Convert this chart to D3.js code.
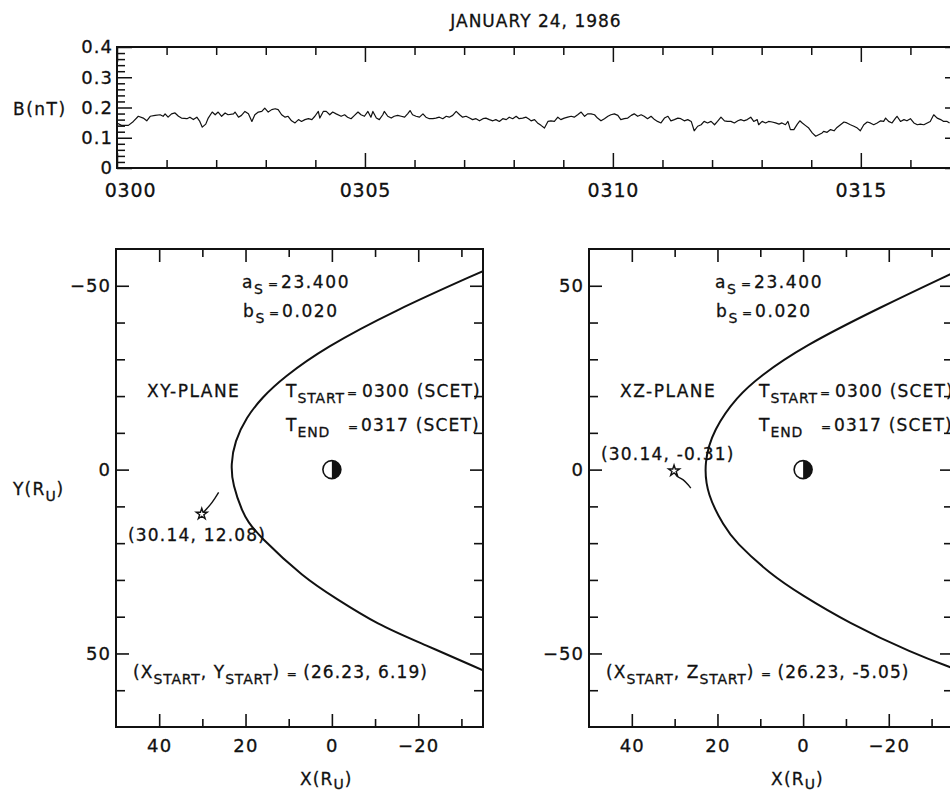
<!DOCTYPE html>
<html>
<head>
<meta charset="UTF-8">
<title>Bow shock model, January 24 1986</title>
<script src="https://d3js.org/d3.v7.min.js"></script>
<style>
  body { margin: 0; background: #fff; }
  svg text { font-family: "DejaVu Sans", sans-serif; fill: #111; white-space: pre;
             stroke: #111; stroke-width: 0.3px; }
</style>
</head>
<body>
<svg id="chart" width="950" height="793"></svg>
<script>
// ---- field magnitude, minutes after 0300 SCET
var bTime = [
  0.00,0.09,0.23,0.33,0.43,0.53,0.60,0.67,0.77,0.87,0.93,0.97,1.03,1.10,1.17,1.24,1.30,1.41,1.47,1.54,
  1.61,1.67,1.72,1.79,1.84,1.92,1.98,2.04,2.11,2.18,2.24,2.35,2.38,2.45,2.51,2.58,2.65,2.72,2.78,2.85,
  2.92,2.98,3.05,3.12,3.19,3.25,3.32,3.39,3.45,3.52,3.59,3.66,3.72,3.79,3.86,3.93,3.99,4.06,4.09,4.16,
  4.22,4.29,4.35,4.42,4.52,4.59,4.65,4.72,4.79,4.86,4.92,4.99,5.06,5.12,5.16,5.23,5.29,5.36,5.39,5.46,
  5.53,5.59,5.66,5.73,5.80,5.86,5.91,5.96,6.03,6.10,6.17,6.23,6.30,6.37,6.43,6.50,6.57,6.64,6.70,6.77,
  6.84,6.91,6.97,7.04,7.11,7.17,7.24,7.31,7.38,7.44,7.51,7.58,7.64,7.71,7.78,7.85,7.91,7.98,8.05,8.11,
  8.18,8.25,8.32,8.35,
  8.42,8.48,8.55,8.62,8.69,8.75,8.82,8.89,8.95,9.02,9.09,9.16,9.22,9.29,9.36,9.43,9.49,9.56,9.63,9.69,
  9.76,9.83,9.90,9.96,10.03,10.10,10.16,10.23,10.30,10.37,10.43,10.50,10.57,10.63,10.70,10.77,10.84,10.90,10.97,11.04,
  11.11,11.17,11.24,11.31,11.37,11.44,11.51,11.58,11.64,11.71,11.78,11.84,11.91,11.98,12.05,12.11,12.18,12.25,12.31,12.38,
  12.45,12.52,12.58,
  12.64,12.71,12.78,12.84,12.91,12.94,13.01,13.08,13.14,13.21,13.28,13.35,13.41,13.48,13.53,13.58,13.65,13.72,13.77,13.82,
  13.88,13.95,14.02,14.09,14.15,14.22,14.25,14.32,14.39,14.46,14.52,14.59,14.66,14.72,14.79,14.86,14.93,14.99,15.06,15.13,
  15.19,15.26,15.33,15.40,15.46,15.50,15.56,15.63,15.70,15.73,15.80,15.87,15.93,16.00,16.07,16.14,16.20,16.27,16.34,16.40,
  16.47,16.54,16.61,16.67,16.74,16.79
];
var bValue = [
  .149,.141,.141,.154,.171,.165,.156,.171,.174,.176,.171,.179,.168,.179,.182,.171,.165,.163,.168,.160,
  .168,.154,.135,.145,.165,.185,.176,.185,.171,.182,.176,.179,.185,.168,.174,.187,.179,.154,.176,.185,
  .187,.198,.185,.193,.196,.193,.176,.168,.171,.156,.149,.160,.154,.160,.163,.160,.171,.187,.165,.187,
  .187,.176,.185,.179,.171,.176,.168,.163,.174,.185,.176,.171,.187,.168,.187,.165,.160,.176,.187,.171,
  .165,.171,.174,.171,.168,.179,.190,.176,.171,.168,.179,.168,.163,.163,.165,.168,.163,.171,.168,.174,
  .187,.176,.168,.171,.165,.160,.163,.156,.163,.165,.160,.156,.160,.154,.163,.160,.168,.163,.171,.163,
  .165,.168,.160,.156,
  .160,.149,.141,.132,.154,.156,.154,.168,.160,.165,.168,.171,.168,.176,.185,.171,.179,.179,.176,.165,
  .156,.163,.171,.176,.179,.174,.160,.163,.165,.174,.179,.171,.176,.171,.163,.171,.160,.154,.149,.165,
  .171,.156,.160,.165,.163,.156,.160,.154,.123,.138,.143,.154,.149,.154,.143,.154,.168,.156,.154,.154,
  .149,.156,.160,
  .156,.160,.168,.154,.160,.143,.154,.149,.154,.152,.149,.145,.149,.143,.154,.127,.127,.145,.156,.149,
  .141,.132,.116,.105,.110,.116,.121,.118,.127,.123,.134,.143,.152,.149,.143,.138,.132,.123,.143,.152,
  .149,.143,.149,.156,.154,.165,.154,.149,.165,.171,.154,.160,.156,.163,.149,.143,.145,.143,.149,.154,
  .176,.165,.160,.154,.154,.149
];

var timeTicks = [0, 5, 10, 15];
var timeLabels = ["0300", "0305", "0310", "0315"];
var bTicks = [0, 0.1, 0.2, 0.3, 0.4];
var bLabels = ["0", "0.1", "0.2", "0.3", "0.4"];

// ---- shock surface as drawn in each plane (R_U)
var shockXY_x = [-35, -14.4, 1.6, 11.2, 16.2, 19.8, 22.5, 23.4, 23.0, 20.6, 19.4, 17.2, 6.4, -0.8, -10.5, -21.3, -35];
var shockXY_y = [-54.0, -43.2, -33.2, -25.1, -19.6, -14.2, -7.7, -1.4, 4.1, 11.9, 14.1, 17.7, 29.5, 34.9, 42.1, 47.5, 54.6];
var shockXZ_x = [-35, -18.1, 0.2, 10.2, 15.4, 20.9, 23.2, 22.4, 18.4, 16.0, 7.6, 0.6, -10.3, -25.8, -35];
var shockXZ_z = [53.5, 44.2, 33.4, 25.3, 19.9, 11.0, 2.0, -7.0, -15.5, -19.5, -28.5, -33.9, -41.5, -50.1, -54.0];

// spacecraft track, start -> end (star)
var trackXY_x = [26.23, 27.1, 28.2, 29.6, 30.14];
var trackXY_y = [6.19, 7.8, 9.6, 11.4, 12.08];
var trackXZ_x = [26.23, 26.8, 28.0, 29.5, 30.14];
var trackXZ_z = [-5.05, -4.2, -2.8, -1.74, -0.31];

var xTicks = [40, 20, 0, -20];
var xLabels = ["40", "20", "0", "\u221220"];
var xMinor = [30, 10, -10, -30];
var yTicksXY = [-50, 0, 50];
var yLabelsXY = ["\u221250", "0", "50"];
var yTicksXZ = [50, 0, -50];
var yLabelsXZ = ["50", "0", "\u221250"];
var yMinor = [-40, -30, -20, -10, 10, 20, 30, 40, 60];

var svg = d3.select("#chart");
var ink = "#111";

function styleAxis(g, w) {
  g.select(".domain").remove();
  g.selectAll("line").attr("stroke", ink).attr("stroke-width", w);
  return g;
}

function styleLabels(sel, size, ls) {
  sel.style("font-size", size + "px").style("letter-spacing", ls + "px")
    .attr("fill", ink).style("font-family", "DejaVu Sans");
}

// parts: {t, sub, x, eq}; eq = the small lettering "=" sign
function richText(g, x, y, parts, size, ls, subDy) {
  var dy = subDy == null ? 6 : subDy;
  var t = g.append("text").attr("x", x).attr("y", y)
      .style("font-size", size + "px").style("letter-spacing", ls + "px");
  parts.forEach(function(p) {
    var s = t.append("tspan").text(p.t).attr("y", p.sub ? y + dy : y);
    if (p.sub) s.style("font-size", "14px").style("letter-spacing", "0.8px");
    if (p.eq) s.style("font-size", "12px").style("letter-spacing", "0px");
    if (p.x != null) s.attr("x", x + p.x);
  });
  return t;
}

// ---------------- top panel
var xT = d3.scaleLinear().domain([0, 17]).range([117, 960]);
var yT = d3.scaleLinear().domain([0, 0.4]).range([168, 47]);
var topG = svg.append("g");

var minMinor = d3.range(0, 18).filter(function(d) { return d % 5 !== 0; });
var bMinor = d3.range(0, 21).map(function(i) { return i * 0.02; })
    .filter(function(d, i) { return i % 5 !== 0; });

topG.append("g").attr("transform", "translate(0,168)")
  .call(d3.axisBottom(xT).tickValues(minMinor).tickSize(-8).tickSizeOuter(0).tickFormat(""))
  .call(styleAxis, 1.5);
topG.append("g").attr("transform", "translate(0,168)")
  .call(d3.axisBottom(xT).tickValues(timeTicks).tickSize(-15).tickSizeOuter(0).tickPadding(16)
    .tickFormat(function(d, i) { return timeLabels[i]; }))
  .call(styleAxis, 1.5)
  .selectAll("text").call(styleLabels, 19, 0.8)
  .attr("dx", function(d, i) { return i === 0 ? 13 : 0; });
topG.append("g").attr("transform", "translate(0,47)")
  .call(d3.axisTop(xT).tickValues(minMinor).tickSize(-8).tickSizeOuter(0).tickFormat(""))
  .call(styleAxis, 1.5);
topG.append("g").attr("transform", "translate(0,47)")
  .call(d3.axisTop(xT).tickValues(timeTicks).tickSize(-15).tickSizeOuter(0).tickFormat(""))
  .call(styleAxis, 1.5);
topG.append("g").attr("transform", "translate(117,0)")
  .call(d3.axisLeft(yT).tickValues(bMinor).tickSize(-8).tickSizeOuter(0).tickFormat(""))
  .call(styleAxis, 1.5);
topG.append("g").attr("transform", "translate(117,0)")
  .call(d3.axisLeft(yT).tickValues(bTicks).tickSize(-15).tickSizeOuter(0).tickPadding(4)
    .tickFormat(function(d, i) { return bLabels[i]; }))
  .call(styleAxis, 1.5)
  .selectAll("text").call(styleLabels, 18, 1);
topG.append("g").attr("transform", "translate(960,0)")
  .call(d3.axisRight(yT).tickValues(bTicks).tickSize(-15).tickSizeOuter(0).tickFormat(""))
  .call(styleAxis, 1.5);

topG.append("rect").attr("x", 117).attr("y", 47).attr("width", 843).attr("height", 121)
  .attr("fill", "none").attr("stroke", ink).attr("stroke-width", 2);

topG.append("path")
  .datum(d3.range(bTime.length))
  .attr("fill", "none").attr("stroke", ink).attr("stroke-width", 1.2)
  .attr("stroke-linejoin", "round")
  .attr("d", d3.line().x(function(i) { return xT(bTime[i]); }).y(function(i) { return yT(bValue[i]); }));

richText(svg, 536, 27, [{t: "JANUARY 24, 1986"}], 17, 1).attr("text-anchor", "middle");
richText(svg, 13, 115, [{t: "B(nT)"}], 17, 1.5);

// ---------------- orbit-plane panels
function drawPanel(p) {
  var g = svg.append("g");
  var x = d3.scaleLinear().domain([50, -35]).range([p.left, p.right]);
  var y = d3.scaleLinear().domain(p.yDomain).range([249, 727]);
  var yMinorP = yMinor.map(function(d) { return d * p.sign; });

  function ticks(axis, pos, vals, len) {
    g.append("g").attr("transform", pos)
      .call(axis.tickValues(vals).tickSize(-len).tickSizeOuter(0).tickFormat(""))
      .call(styleAxis, 1.6);
  }
  ticks(d3.axisBottom(x), "translate(0,727)", xMinor, 8);
  ticks(d3.axisTop(x), "translate(0,249)", xMinor, 8);
  ticks(d3.axisTop(x), "translate(0,249)", xTicks, 13);
  ticks(d3.axisLeft(y), "translate(" + p.left + ",0)", yMinorP, 9);
  ticks(d3.axisRight(y), "translate(" + p.right + ",0)", yMinorP, 9);
  ticks(d3.axisRight(y), "translate(" + p.right + ",0)", p.yTicks, 13);

  g.append("g").attr("transform", "translate(0,727)")
    .call(d3.axisBottom(x).tickValues(xTicks).tickSize(-13).tickSizeOuter(0).tickPadding(12)
      .tickFormat(function(d, i) { return xLabels[i]; }))
    .call(styleAxis, 1.6)
    .selectAll("text").call(styleLabels, 18, 1.2);
  g.append("g").attr("transform", "translate(" + p.left + ",0)")
    .call(d3.axisLeft(y).tickValues(p.yTicks).tickSize(-13).tickSizeOuter(0).tickPadding(5)
      .tickFormat(function(d, i) { return p.yLabels[i]; }))
    .call(styleAxis, 1.6)
    .selectAll("text").call(styleLabels, 18, 1);

  var clipId = "clip" + p.id;
  g.append("clipPath").attr("id", clipId).append("rect")
    .attr("x", p.left).attr("y", 249).attr("width", p.right - p.left).attr("height", 478);

  g.append("rect").attr("x", p.left).attr("y", 249).attr("width", p.right - p.left).attr("height", 478)
    .attr("fill", "none").attr("stroke", ink).attr("stroke-width", 2);

  var shockLine = d3.line().curve(d3.curveBasis);
  g.append("path")
    .attr("clip-path", "url(#" + clipId + ")")
    .attr("fill", "none").attr("stroke", ink).attr("stroke-width", 2)
    .attr("d", shockLine(p.shockX.map(function(v, i) { return [x(v), y(p.shockY[i])]; })));

  var trackLine = d3.line().curve(d3.curveCatmullRom.alpha(0.5));
  g.append("path")
    .attr("fill", "none").attr("stroke", ink).attr("stroke-width", 1.4)
    .attr("d", trackLine(p.trackX.map(function(v, i) { return [x(v), y(p.trackY[i])]; })));

  var n = p.trackX.length - 1;
  g.append("path")
    .attr("transform", "translate(" + x(p.trackX[n]) + "," + y(p.trackY[n]) + ")")
    .attr("d", d3.symbol().type(d3.symbolStar).size(38)())
    .attr("fill", "#fff").attr("stroke", ink).attr("stroke-width", 1.4);

  // planet at the origin
  var pl = g.append("g").attr("transform", "translate(" + x(0) + "," + y(0) + ")");
  pl.append("circle").attr("r", 9).attr("fill", "#fff").attr("stroke", ink).attr("stroke-width", 1.6);
  pl.append("path").attr("d", "M0,-9A9,9 0 0,1 0,9Z").attr("fill", ink);

  // annotations
  var L = p.left;
  richText(g, L + 126, 288, [{t: "a"}, {t: "S", sub: true}, {t: "=", x: 26, eq: true}, {t: "23.400", x: 39}], 17, 1.6);
  richText(g, L + 127, 317, [{t: "b"}, {t: "S", sub: true}, {t: "=", x: 26, eq: true}, {t: "0.020", x: 39}], 17, 1.6);
  richText(g, L + 31, 397, [{t: p.plane}], 17, 1.5);
  richText(g, L + 170, 397, [{t: "T"}, {t: "START", sub: true}, {t: "=", x: 61, eq: true}, {t: "0300 (SCET)", x: 76}], 17, 1.2);
  richText(g, L + 170, 431, [{t: "T"}, {t: "END", sub: true}, {t: "=", x: 62, eq: true}, {t: "0317 (SCET)", x: 75}], 17, 1.2);
  richText(g, L + 12, p.endLabelY, [{t: p.endLabel}], 17, 1.2);
  richText(g, L + 17, 678, [{t: "(X"}, {t: "START", sub: true}, {t: ", " + p.axisName}, {t: "START", sub: true},
    {t: ") "}, {t: "=", eq: true}, {t: " " + p.startLabel}], 17, 1.1);
  richText(g, x(0) - 32, 785, [{t: "X(R"}, {t: "U", sub: true}, {t: ")"}], 17, 1.2, 4);
}

drawPanel({
  id: "xy", left: 116, right: 483, yDomain: [-60, 70], sign: 1,
  yTicks: yTicksXY, yLabels: yLabelsXY,
  shockX: shockXY_x, shockY: shockXY_y, trackX: trackXY_x, trackY: trackXY_y,
  plane: "XY-PLANE", axisName: "Y", startLabel: "(26.23, 6.19)",
  endLabel: "(30.14, 12.08)", endLabelY: 541
});
drawPanel({
  id: "xz", left: 589, right: 953, yDomain: [60, -70], sign: -1,
  yTicks: yTicksXZ, yLabels: yLabelsXZ,
  shockX: shockXZ_x, shockY: shockXZ_z, trackX: trackXZ_x, trackY: trackXZ_z,
  plane: "XZ-PLANE", axisName: "Z", startLabel: "(26.23, -5.05)",
  endLabel: "(30.14, -0.31)", endLabelY: 460
});

richText(svg, 13, 495, [{t: "Y(R"}, {t: "U", sub: true}, {t: ")"}], 17, 1.2);
</script>
</body>
</html>
